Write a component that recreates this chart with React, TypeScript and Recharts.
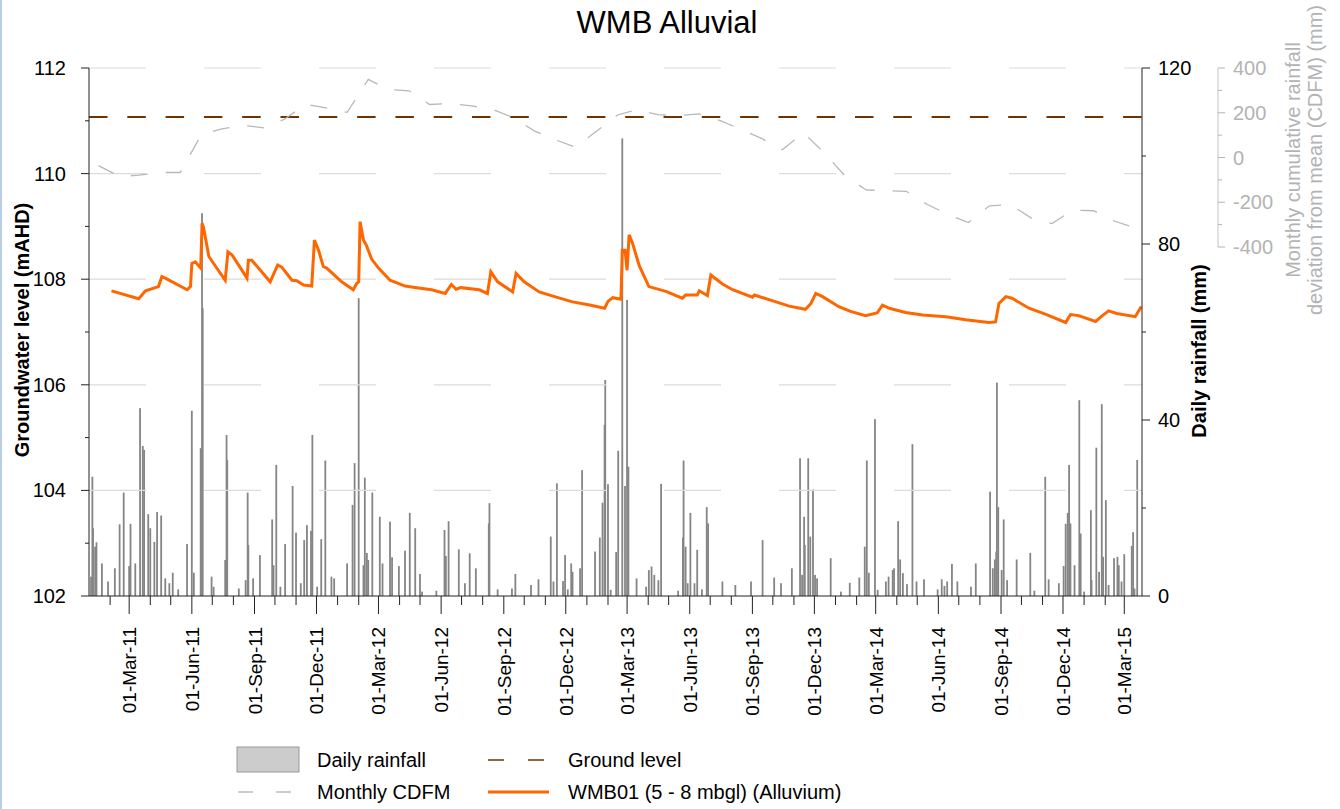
import React from "react";
import { ComposedChart, Bar, Line, XAxis, YAxis, ReferenceLine } from "recharts";

// ---- data ----

const X_START = "2011-01-01";
const X_END = "2015-03-27";

const MONTH_NAMES = ["Jan", "Feb", "Mar", "Apr", "May", "Jun", "Jul", "Aug", "Sep", "Oct", "Nov", "Dec"];
const LABELLED_MONTHS = [2, 5, 8, 11]; // Mar, Jun, Sep, Dec get a label

const MONTH_TICKS = [
  "2011-02-01", "2011-03-01", "2011-04-01", "2011-05-01", "2011-06-01", "2011-07-01",
  "2011-08-01", "2011-09-01", "2011-10-01", "2011-11-01", "2011-12-01",
  "2012-01-01", "2012-02-01", "2012-03-01", "2012-04-01", "2012-05-01", "2012-06-01",
  "2012-07-01", "2012-08-01", "2012-09-01", "2012-10-01", "2012-11-01", "2012-12-01",
  "2013-01-01", "2013-02-01", "2013-03-01", "2013-04-01", "2013-05-01", "2013-06-01",
  "2013-07-01", "2013-08-01", "2013-09-01", "2013-10-01", "2013-11-01", "2013-12-01",
  "2014-01-01", "2014-02-01", "2014-03-01", "2014-04-01", "2014-05-01", "2014-06-01",
  "2014-07-01", "2014-08-01", "2014-09-01", "2014-10-01", "2014-11-01", "2014-12-01",
  "2015-01-01", "2015-02-01", "2015-03-01",
];

const GW_TICKS = [102, 103, 104, 105, 106, 107, 108, 109, 110, 111, 112];
const GW_GRID = [104, 106, 108, 110, 112];
const RAIN_TICKS = [0, 20, 40, 60, 80, 100, 120];
const CDFM_TICKS = [-400, -300, -200, -100, 0, 100, 200, 300, 400];

const GROUND_LEVEL = 111.07;

// daily rainfall (mm), rain days only
const RAINFALL: [string, number][] = [
  ["2011-01-04", 4.4], ["2011-01-06", 27.1], ["2011-01-07", 15.4], ["2011-01-10", 11.2],
  ["2011-01-12", 12.2], ["2011-01-20", 7.4], ["2011-01-29", 3.3], ["2011-02-08", 6.3],
  ["2011-02-15", 16.3], ["2011-02-21", 23.5], ["2011-03-01", 6.8], ["2011-03-03", 16.4],
  ["2011-03-10", 7.4], ["2011-03-17", 42.7], ["2011-03-21", 34.1], ["2011-03-23", 33.2],
  ["2011-03-29", 18.6], ["2011-04-01", 15.4], ["2011-04-07", 12.3], ["2011-04-11", 19.1],
  ["2011-04-17", 18.3], ["2011-04-23", 4.0], ["2011-04-29", 2.9], ["2011-05-04", 5.3],
  ["2011-05-12", 1.5], ["2011-05-25", 11.8], ["2011-06-01", 42.1], ["2011-06-04", 5.3],
  ["2011-06-14", 33.6], ["2011-06-16", 87.0], ["2011-06-17", 65.4], ["2011-06-30", 4.4],
  ["2011-07-03", 2.1], ["2011-07-20", 8.2], ["2011-07-22", 36.6], ["2011-07-23", 30.9],
  ["2011-08-09", 1.7], ["2011-08-19", 3.6], ["2011-08-22", 23.5], ["2011-08-23", 11.6],
  ["2011-08-30", 4.0], ["2011-09-09", 9.3], ["2011-09-27", 17.4], ["2011-09-29", 7.0],
  ["2011-10-03", 29.8], ["2011-10-09", 2.1], ["2011-10-16", 11.8], ["2011-10-27", 25.0],
  ["2011-11-01", 14.4], ["2011-11-08", 2.9], ["2011-11-13", 12.7], ["2011-11-17", 16.1],
  ["2011-11-23", 14.8], ["2011-11-25", 36.6], ["2011-12-02", 2.1], ["2011-12-08", 12.9],
  ["2011-12-14", 30.8], ["2011-12-23", 4.4], ["2011-12-27", 4.0], ["2012-01-15", 7.4],
  ["2012-01-23", 20.7], ["2012-01-26", 30.2], ["2012-02-01", 67.7], ["2012-02-08", 7.0],
  ["2012-02-10", 26.9], ["2012-02-13", 9.8], ["2012-02-15", 8.2], ["2012-02-21", 23.5],
  ["2012-03-03", 18.0], ["2012-03-07", 7.4], ["2012-03-18", 16.9], ["2012-03-21", 8.8],
  ["2012-03-31", 6.8], ["2012-04-09", 10.3], ["2012-04-16", 18.9], ["2012-04-24", 15.4],
  ["2012-05-01", 5.0], ["2012-05-04", 1.0], ["2012-05-25", 1.2], ["2012-06-06", 15.0],
  ["2012-06-08", 9.1], ["2012-06-12", 17.0], ["2012-06-27", 10.6], ["2012-07-06", 2.9],
  ["2012-07-13", 9.7], ["2012-07-22", 6.3], ["2012-08-10", 16.5], ["2012-08-11", 21.1],
  ["2012-08-23", 1.5], ["2012-09-13", 1.7], ["2012-09-18", 5.0], ["2012-10-11", 2.5],
  ["2012-10-22", 3.8], ["2012-11-09", 13.5], ["2012-11-13", 3.3], ["2012-11-18", 25.6],
  ["2012-11-27", 3.4], ["2012-11-30", 9.3], ["2012-12-04", 1.5], ["2012-12-09", 7.4],
  ["2012-12-11", 5.5], ["2012-12-22", 6.3], ["2012-12-25", 28.6], ["2013-01-13", 10.1],
  ["2013-01-20", 13.3], ["2013-01-24", 21.2], ["2013-01-27", 38.9], ["2013-01-28", 49.1],
  ["2013-02-01", 25.4], ["2013-02-05", 1.4], ["2013-02-13", 10.0], ["2013-02-16", 33.0],
  ["2013-02-22", 104.0], ["2013-02-26", 25.0], ["2013-03-01", 67.3], ["2013-03-03", 29.4],
  ["2013-03-15", 4.0], ["2013-03-29", 2.1], ["2013-04-02", 5.9], ["2013-04-06", 6.7],
  ["2013-04-10", 4.8], ["2013-04-16", 3.6], ["2013-04-20", 25.5], ["2013-05-15", 1.2],
  ["2013-05-22", 13.3], ["2013-05-23", 30.8], ["2013-05-26", 11.2], ["2013-05-29", 2.9],
  ["2013-06-02", 18.9], ["2013-06-08", 2.9], ["2013-06-12", 10.5], ["2013-06-19", 1.5],
  ["2013-06-26", 20.2], ["2013-06-28", 16.5], ["2013-07-19", 3.3], ["2013-08-07", 2.5],
  ["2013-08-30", 3.3], ["2013-09-16", 12.7], ["2013-10-03", 4.2], ["2013-10-13", 2.9],
  ["2013-10-29", 6.3], ["2013-11-10", 31.3], ["2013-11-13", 4.8], ["2013-11-16", 18.0],
  ["2013-11-17", 11.6], ["2013-11-22", 31.3], ["2013-11-25", 13.5], ["2013-11-29", 24.2],
  ["2013-12-02", 4.8], ["2013-12-05", 4.0], ["2013-12-25", 8.6], ["2014-01-09", 1.0],
  ["2014-01-22", 3.0], ["2014-02-05", 4.2], ["2014-02-13", 11.2], ["2014-02-16", 30.8],
  ["2014-02-19", 5.3], ["2014-02-28", 40.2], ["2014-03-04", 1.4], ["2014-03-16", 3.3],
  ["2014-03-20", 4.4], ["2014-03-26", 5.9], ["2014-03-28", 6.3], ["2014-04-03", 17.0],
  ["2014-04-06", 8.3], ["2014-04-10", 5.2], ["2014-04-16", 2.7], ["2014-04-24", 34.5],
  ["2014-04-30", 3.3], ["2014-05-11", 3.8], ["2014-05-31", 1.5], ["2014-06-06", 3.8],
  ["2014-06-10", 2.3], ["2014-06-14", 3.3], ["2014-06-21", 7.3], ["2014-06-29", 3.3],
  ["2014-07-19", 2.1], ["2014-07-26", 7.4], ["2014-08-16", 23.7], ["2014-08-20", 6.3],
  ["2014-08-23", 8.3], ["2014-08-25", 10.1], ["2014-08-26", 48.5], ["2014-08-28", 20.2],
  ["2014-09-02", 5.9], ["2014-09-05", 17.4], ["2014-09-10", 3.6], ["2014-09-24", 8.3],
  ["2014-10-14", 9.8], ["2014-10-20", 1.2], ["2014-11-05", 27.1], ["2014-11-10", 3.8],
  ["2014-11-25", 2.9], ["2014-12-02", 6.8], ["2014-12-05", 16.4], ["2014-12-08", 18.9],
  ["2014-12-10", 29.8], ["2014-12-12", 16.5], ["2014-12-18", 7.0], ["2014-12-25", 44.5],
  ["2014-12-27", 14.2], ["2015-01-01", 1.0], ["2015-01-11", 19.5], ["2015-01-12", 3.6],
  ["2015-01-19", 33.7], ["2015-01-23", 5.5], ["2015-01-27", 43.6], ["2015-01-29", 8.9],
  ["2015-02-02", 21.8], ["2015-02-06", 2.5], ["2015-02-14", 8.6], ["2015-02-19", 8.9],
  ["2015-02-21", 7.0], ["2015-02-25", 3.3], ["2015-03-01", 9.5], ["2015-03-12", 11.4],
  ["2015-03-14", 14.5], ["2015-03-16", 1.7], ["2015-03-20", 30.9],
];

// WMB01 groundwater level (mAHD)
const GROUNDWATER: [string, number][] = [
  ["2011-02-03", 107.78], ["2011-03-15", 107.63], ["2011-03-25", 107.78], ["2011-04-13", 107.86],
  ["2011-04-18", 108.05], ["2011-04-23", 108.02], ["2011-05-25", 107.8], ["2011-05-30", 107.86],
  ["2011-06-01", 108.3], ["2011-06-06", 108.33], ["2011-06-14", 108.21], ["2011-06-16", 109.06],
  ["2011-06-18", 108.99], ["2011-06-26", 108.43], ["2011-07-06", 108.24], ["2011-07-20", 107.98],
  ["2011-07-24", 108.52], ["2011-07-30", 108.46], ["2011-08-21", 108.02], ["2011-08-23", 108.36],
  ["2011-08-28", 108.36], ["2011-09-24", 107.95], ["2011-10-05", 108.27], ["2011-10-11", 108.23],
  ["2011-10-26", 107.98], ["2011-11-02", 107.97], ["2011-11-12", 107.89], ["2011-11-24", 107.87],
  ["2011-11-28", 108.74], ["2011-12-04", 108.55], ["2011-12-11", 108.24], ["2011-12-16", 108.21],
  ["2012-01-07", 107.95], ["2012-01-24", 107.8], ["2012-01-29", 107.92], ["2012-02-01", 107.95],
  ["2012-02-03", 109.09], ["2012-02-08", 108.74], ["2012-02-12", 108.65], ["2012-02-20", 108.38],
  ["2012-03-01", 108.21], ["2012-03-18", 107.98], ["2012-04-09", 107.87], ["2012-04-26", 107.84],
  ["2012-05-18", 107.8], ["2012-06-07", 107.73], ["2012-06-16", 107.9], ["2012-06-23", 107.81],
  ["2012-06-30", 107.84], ["2012-07-27", 107.8], ["2012-08-08", 107.73], ["2012-08-13", 108.14],
  ["2012-08-23", 107.95], ["2012-09-14", 107.76], ["2012-09-19", 108.11], ["2012-10-01", 107.95],
  ["2012-10-23", 107.76], ["2012-11-17", 107.66], ["2012-12-11", 107.57], ["2013-01-05", 107.51],
  ["2013-01-27", 107.45], ["2013-02-01", 107.58], ["2013-02-08", 107.65], ["2013-02-20", 107.62],
  ["2013-02-22", 108.55], ["2013-02-26", 108.55], ["2013-03-01", 108.17], ["2013-03-04", 108.84],
  ["2013-03-09", 108.68], ["2013-03-19", 108.25], ["2013-04-02", 107.86], ["2013-04-27", 107.77],
  ["2013-05-21", 107.64], ["2013-05-26", 107.7], ["2013-06-12", 107.7], ["2013-06-15", 107.78],
  ["2013-06-27", 107.69], ["2013-07-02", 108.08], ["2013-07-19", 107.91], ["2013-08-03", 107.8],
  ["2013-09-01", 107.66], ["2013-09-04", 107.7], ["2013-10-01", 107.59], ["2013-10-25", 107.49],
  ["2013-11-18", 107.43], ["2013-11-26", 107.54], ["2013-12-03", 107.73], ["2013-12-13", 107.67],
  ["2014-01-06", 107.48], ["2014-01-23", 107.39], ["2014-02-14", 107.31], ["2014-03-03", 107.36],
  ["2014-03-11", 107.51], ["2014-03-21", 107.45], ["2014-04-14", 107.37], ["2014-05-09", 107.32],
  ["2014-06-12", 107.29], ["2014-07-11", 107.23], ["2014-08-14", 107.18], ["2014-08-24", 107.19],
  ["2014-08-29", 107.54], ["2014-09-08", 107.67], ["2014-09-17", 107.64], ["2014-10-12", 107.45],
  ["2014-11-05", 107.34], ["2014-12-05", 107.18], ["2014-12-12", 107.33], ["2014-12-24", 107.31],
  ["2015-01-18", 107.2], ["2015-01-27", 107.3], ["2015-02-06", 107.4], ["2015-02-18", 107.35],
  ["2015-03-17", 107.29], ["2015-03-26", 107.48],
];

// monthly cumulative deviation from mean rainfall (mm), plotted mid-month
const CDFM_MONTHS = [
  "2011-01-15", "2011-02-15", "2011-03-15", "2011-04-15", "2011-05-15", "2011-06-15",
  "2011-07-15", "2011-08-15", "2011-09-15", "2011-10-15", "2011-11-15", "2011-12-15",
  "2012-01-15", "2012-02-15", "2012-03-15", "2012-04-15", "2012-05-15", "2012-06-15",
  "2012-07-15", "2012-08-15", "2012-09-15", "2012-10-15", "2012-11-15", "2012-12-15",
  "2013-01-15", "2013-02-15", "2013-03-15", "2013-04-15", "2013-05-15", "2013-06-15",
  "2013-07-15", "2013-08-15", "2013-09-15", "2013-10-15", "2013-11-15", "2013-12-15",
  "2014-01-15", "2014-02-15", "2014-03-15", "2014-04-15", "2014-05-15", "2014-06-15",
  "2014-07-15", "2014-08-15", "2014-09-15", "2014-10-15", "2014-11-15", "2014-12-15",
  "2015-01-15", "2015-02-15", "2015-03-15",
];
const CDFM_VALUES = [
  -36, -85, -79, -67, -67, 103, 128, 144, 132, 171, 238, 222,
  202, 349, 304, 298, 237, 241, 231, 216, 178, 120, 80, 46,
  117, 190, 214, 192, 187, 195, 166, 126, 84, 35, 111, 22,
  -82, -145, -148, -151, -209, -254, -291, -216, -211, -270, -295, -235,
  -238, -285, -313,
];

// ---- helpers ----

const ts = (d: string) => Date.UTC(+d.slice(0, 4), +d.slice(5, 7) - 1, +d.slice(8, 10));
const X_DOMAIN = [ts(X_START), ts(X_END)];

const rainData = RAINFALL.map(([d, v]) => ({ t: ts(d), rain: v }));
const gwData = GROUNDWATER.map(([d, v]) => ({ t: ts(d), gw: v }));
const cdfmData = CDFM_MONTHS.map((d, i) => ({ t: ts(d), cdfm: CDFM_VALUES[i] }));

const FONT = '"Liberation Sans", Arial, sans-serif';
const AXIS = "#222";
const CDFM_GREY = "#b3b3b3";

function DateTick({ x, y, payload }: any) {
  const d = new Date(payload.value);
  const m = d.getUTCMonth();
  const major = LABELLED_MONTHS.includes(m);
  const label = `01-${MONTH_NAMES[m]}-${String(d.getUTCFullYear()).slice(2)}`;
  return (
    <g>
      <line x1={x} x2={x} y1={y} y2={y + (major ? 18 : 9)} stroke={AXIS} />
      {major && (
        <text transform={`translate(${x + 7},${y + 31}) rotate(-90)`} textAnchor="end" fontSize={19} fill="#000">
          {label}
        </text>
      )}
    </g>
  );
}

function GwTick({ x, y, payload }: any) {
  const major = payload.value % 2 === 0;
  return (
    <g>
      <line x1={x - (major ? 8 : 4)} x2={x} y1={y} y2={y} stroke={AXIS} />
      {major && (
        <text x={x - 23} y={y} textAnchor="end" dominantBaseline="central" fontSize={20} fill="#000">
          {payload.value}
        </text>
      )}
    </g>
  );
}

function RainTick({ x, y, payload }: any) {
  const major = payload.value % 40 === 0;
  return (
    <g>
      <line x1={x} x2={x + (major ? 8 : 4)} y1={y} y2={y} stroke={AXIS} />
      {major && (
        <text x={x + 16} y={y} textAnchor="start" dominantBaseline="central" fontSize={20} fill="#000">
          {payload.value}
        </text>
      )}
    </g>
  );
}

function CdfmTick({ x, y, payload }: any) {
  const major = payload.value % 200 === 0;
  return (
    <g>
      <line x1={x} x2={x + (major ? 7 : 4)} y1={y} y2={y} stroke={CDFM_GREY} />
      {major && (
        <text x={x + 15} y={y} textAnchor="start" dominantBaseline="central" fontSize={20} fill={CDFM_GREY}>
          {payload.value}
        </text>
      )}
    </g>
  );
}

function RainBar(props: any) {
  const { x, y, width, height } = props;
  if (!height || height <= 0) return null;
  const cx = x + width / 2;
  return <rect x={cx - 0.9} y={y} width={1.8} height={height} fill="#858585" />;
}

export default function App() {
  return (
    <div
      style={{
        position: "absolute",
        left: 0,
        top: 0,
        width: 1340,
        height: 809,
        background: "#fff",
        fontFamily: FONT,
        overflow: "hidden",
      }}
    >
      <div style={{ position: "absolute", left: 0, top: 0, width: 2, height: 809, background: "#b9cfe8" }} />

      <div style={{ position: "absolute", left: 0, top: 0 }}>
        <ComposedChart width={1340} height={809} data={rainData} margin={{ top: 68, right: 138, bottom: 83, left: 0 }}>
          <XAxis
            dataKey="t"
            type="number"
            domain={X_DOMAIN}
            ticks={MONTH_TICKS.map(ts)}
            interval={0}
            height={130}
            tickSize={0}
            tickMargin={0}
            tickLine={false}
            axisLine={{ stroke: AXIS }}
            tick={(p: any) => <DateTick {...p} />}
            allowDataOverflow
          />
          <YAxis
            yAxisId="gw"
            domain={[102, 112]}
            ticks={GW_TICKS}
            interval={0}
            width={89}
            tickSize={0}
            tickMargin={0}
            tickLine={false}
            axisLine={{ stroke: AXIS }}
            tick={(p: any) => <GwTick {...p} />}
            allowDataOverflow
          />
          <YAxis
            yAxisId="rain"
            orientation="right"
            domain={[0, 120]}
            ticks={RAIN_TICKS}
            interval={0}
            width={60}
            tickSize={0}
            tickMargin={0}
            tickLine={false}
            axisLine={{ stroke: AXIS }}
            tick={(p: any) => <RainTick {...p} />}
            allowDataOverflow
          />
          {GW_GRID.map((v) => (
            <ReferenceLine key={v} yAxisId="gw" y={v} stroke="#dcdcdc" strokeWidth={1.2} strokeDasharray="57 58" />
          ))}
          <Bar
            yAxisId="rain"
            dataKey="rain"
            barSize={2}
            shape={(p: any) => <RainBar {...p} />}
            isAnimationActive={false}
          />
          <ReferenceLine
            yAxisId="gw"
            y={GROUND_LEVEL}
            stroke="#6e3300"
            strokeWidth={2}
            strokeDasharray="18.5 19.8"
          />
          <Line
            yAxisId="gw"
            data={gwData}
            dataKey="gw"
            type="linear"
            stroke="#ff6600"
            strokeWidth={3}
            dot={false}
            isAnimationActive={false}
          />
        </ComposedChart>
      </div>

      {/* CDFM series on its own short axis in the upper part of the plot */}
      <div style={{ position: "absolute", left: 0, top: 0 }}>
        <ComposedChart width={1340} height={262} data={cdfmData} margin={{ top: 68, right: 0, bottom: 15, left: 89 }}>
          <XAxis dataKey="t" type="number" domain={X_DOMAIN} hide allowDataOverflow />
          <YAxis
            yAxisId="cdfm"
            orientation="right"
            domain={[-400, 400]}
            ticks={CDFM_TICKS}
            interval={0}
            width={122}
            tickSize={0}
            tickMargin={0}
            tickLine={false}
            axisLine={{ stroke: "#c4c4c4" }}
            tick={(p: any) => <CdfmTick {...p} />}
          />
          <YAxis
            yAxisId="a_spacer"
            orientation="right"
            width={76}
            domain={[-400, 400]}
            axisLine={false}
            tickLine={false}
            tick={false}
          />
          <Line
            yAxisId="a_spacer"
            dataKey="cdfm"
            stroke="none"
            dot={false}
            isAnimationActive={false}
          />
          <Line
            yAxisId="cdfm"
            dataKey="cdfm"
            type="linear"
            stroke="#b8b8b8"
            strokeWidth={1.3}
            strokeDasharray="17 18"
            dot={false}
            isAnimationActive={false}
          />
        </ComposedChart>
      </div>

      {/* titles and legend */}
      <svg width={1340} height={809} style={{ position: "absolute", left: 0, top: 0, pointerEvents: "none" }}>
        <text x={667} y={33} textAnchor="middle" fontSize={31} fill="#000">
          WMB Alluvial
        </text>
        <text transform="translate(29,330) rotate(-90)" textAnchor="middle" fontSize={20} fontWeight="bold" fill="#000">
          Groundwater level (mAHD)
        </text>
        <text transform="translate(1206,351) rotate(-90)" textAnchor="middle" fontSize={20} fontWeight="bold" fill="#000">
          Daily rainfall (mm)
        </text>
        <text transform="translate(1300,160) rotate(-90)" textAnchor="middle" fontSize={20} fill={CDFM_GREY}>
          Monthly cumulative rainfall
        </text>
        <text transform="translate(1322,160) rotate(-90)" textAnchor="middle" fontSize={20} fill={CDFM_GREY}>
          deviation from mean (CDFM) (mm)
        </text>

        <rect x={237} y={747} width={62} height={25} fill="#cccccc" stroke="#999" strokeWidth={1} />
        <text x={317} y={760} dominantBaseline="central" fontSize={20} fill="#000">Daily rainfall</text>
        <line x1={488} x2={544} y1={760} y2={760} stroke="#6e3300" strokeWidth={1.5} strokeDasharray="16 24" />
        <text x={568} y={760} dominantBaseline="central" fontSize={20} fill="#000">Ground level</text>
        <line x1={238} x2={292} y1={792} y2={792} stroke="#bdbdbd" strokeWidth={1.3} strokeDasharray="15 23" />
        <text x={317} y={792} dominantBaseline="central" fontSize={20} fill="#000">Monthly CDFM</text>
        <line x1={488} x2={549} y1={792} y2={792} stroke="#ff6600" strokeWidth={3} />
        <text x={568} y={792} dominantBaseline="central" fontSize={20} fill="#000">WMB01 (5 - 8 mbgl) (Alluvium)</text>
      </svg>
    </div>
  );
}
